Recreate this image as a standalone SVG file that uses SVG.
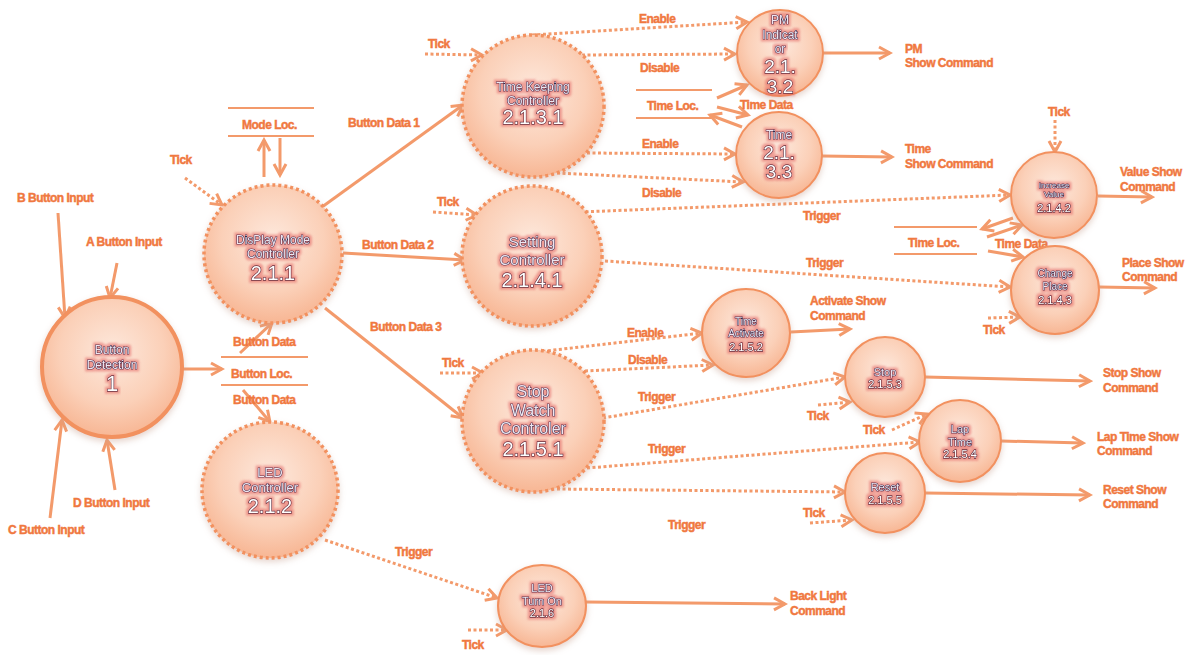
<svg xmlns="http://www.w3.org/2000/svg" width="1195" height="655" viewBox="0 0 1195 655">
<style>
.lbl{font-family:"Liberation Sans",Arial,sans-serif;font-weight:bold;font-size:12px;fill:#f0783f;stroke:#f0783f;stroke-width:0.45px;letter-spacing:-0.5px}
.ln{fill:none;stroke:#f39a6b;stroke-width:3;marker-end:url(#ah)}
.dt{fill:none;stroke:#f39a6b;stroke-width:3;stroke-dasharray:3 2.5;marker-end:url(#ah)}
.st{stroke:#f39a6b;stroke-width:2}
.n{fill:url(#g);stroke:#f2915f;stroke-width:2;filter:url(#sh)}
.nd{fill:url(#g);stroke:#f2915f;stroke-width:3.5;stroke-dasharray:3 3;filter:url(#sh)}
.t{font-family:"Liberation Sans",Arial,sans-serif;text-anchor:middle;fill:#efe6f0;stroke:#33294a;stroke-width:1.1px;paint-order:stroke;filter:url(#gl)}
.nm{font-family:"Liberation Sans",Arial,sans-serif;text-anchor:middle;fill:#ffffff;stroke:#5a2c3c;stroke-width:1.3px;paint-order:stroke;filter:url(#gl)}
</style>
<defs>
<radialGradient id="g" cx="50%" cy="40%" r="62%">
<stop offset="0" stop-color="#fde8dc"/>
<stop offset="0.6" stop-color="#fbd0b8"/>
<stop offset="1" stop-color="#f7b491"/>
</radialGradient>
<filter id="sh" x="-20%" y="-20%" width="140%" height="150%">
<feGaussianBlur in="SourceAlpha" stdDeviation="3"/>
<feOffset dy="3" result="b"/>
<feFlood flood-color="#c8a090" flood-opacity="0.45"/>
<feComposite in2="b" operator="in"/>
<feMerge><feMergeNode/><feMergeNode in="SourceGraphic"/></feMerge>
</filter>
<filter id="gl" x="-20%" y="-30%" width="140%" height="160%">
<feMorphology in="SourceAlpha" operator="dilate" radius="1.5" result="d"/>
<feGaussianBlur in="d" stdDeviation="1.2" result="b"/>
<feFlood flood-color="#e05a5a" flood-opacity="0.5"/>
<feComposite in2="b" operator="in"/>
<feMerge><feMergeNode/><feMergeNode in="SourceGraphic"/></feMerge>
</filter>
<marker id="ah" viewBox="0 0 16 16" markerWidth="16" markerHeight="16" refX="13" refY="8" orient="auto" markerUnits="userSpaceOnUse">
<path d="M2,2 L13,8 L2,14" fill="none" stroke="#f39a6b" stroke-width="3"/>
</marker>
</defs>
<rect width="1195" height="655" fill="#ffffff"/>

<g id="stores">
<line class="st" x1="228" y1="108" x2="314" y2="108"/><line class="st" x1="228" y1="136" x2="314" y2="136"/>
<line class="st" x1="221" y1="357" x2="308" y2="357"/><line class="st" x1="221" y1="385" x2="308" y2="385"/>
<line class="st" x1="636" y1="90" x2="712" y2="90"/><line class="st" x1="636" y1="118" x2="712" y2="118"/>
<line class="st" x1="894" y1="227" x2="977" y2="227"/><line class="st" x1="894" y1="254" x2="977" y2="254"/>
</g>

<g id="connectors">
<path class="ln" d="M58,213 L65,318"/>
<path class="ln" d="M117,263 L110,298"/>
<path class="ln" d="M115,490 L107,440"/>
<path class="ln" d="M50,518 L62,420"/>
<path class="ln" d="M182,369 L222,369"/>
<path class="ln" d="M240,353 L272,323"/>
<path class="ln" d="M243,390 L270,422"/>
<path class="ln" d="M264,177 L264,140"/>
<path class="ln" d="M280,138 L280,175"/>
<path class="ln" d="M322,207 L463,105"/>
<path class="ln" d="M343,253 L465,260"/>
<path class="ln" d="M325,308 L463,418"/>
<path class="ln" d="M823,53 L890,53"/>
<path class="ln" d="M822,156 L892,157"/>
<path class="ln" d="M717,98 L747,85"/>
<path class="ln" d="M717,107 L748,115"/>
<path class="ln" d="M742,127 L710,115"/>
<path class="ln" d="M1013,218 L982,229"/>
<path class="ln" d="M987,237 L1022,225"/>
<path class="ln" d="M988,251 L1023,257"/>
<path class="ln" d="M1098,196 L1152,197"/>
<path class="ln" d="M1099,287 L1155,288"/>
<path class="ln" d="M791,332 L850,329"/>
<path class="ln" d="M925,377 L1090,381"/>
<path class="ln" d="M1001,441 L1083,443"/>
<path class="ln" d="M925,493 L1090,495"/>
<path class="ln" d="M586,602 L785,604"/>
<path class="dt" d="M185,178 L222,205"/>
<path class="dt" d="M425,54 L482,55"/>
<path class="dt" d="M532,35 L747,22"/>
<path class="dt" d="M582,55 L735,54"/>
<path class="dt" d="M587,153 L735,154"/>
<path class="dt" d="M557,173 L743,182"/>
<path class="dt" d="M433,212 L477,215"/>
<path class="dt" d="M580,212 L1010,195"/>
<path class="dt" d="M605,261 L1010,287"/>
<path class="dt" d="M1055,120 L1055,152"/>
<path class="dt" d="M988,318 L1020,317"/>
<path class="dt" d="M440,373 L483,373"/>
<path class="dt" d="M537,352 L702,333"/>
<path class="dt" d="M585,371 L713,365"/>
<path class="dt" d="M603,418 L845,377"/>
<path class="dt" d="M587,468 L920,442"/>
<path class="dt" d="M557,489 L845,492"/>
<path class="dt" d="M818,405 L850,402"/>
<path class="dt" d="M892,430 L927,414"/>
<path class="dt" d="M810,523 L852,520"/>
<path class="dt" d="M325,540 L497,598"/>
<path class="dt" d="M468,630 L507,630"/>
</g>

<g id="labels">
<text class="lbl" x="17" y="202">B Button Input</text>
<text class="lbl" x="86" y="246">A Button Input</text>
<text class="lbl" x="73" y="507">D Button Input</text>
<text class="lbl" x="8" y="534">C Button Input</text>
<text class="lbl" x="233" y="346">Button Data</text>
<text class="lbl" x="231" y="378">Button Loc.</text>
<text class="lbl" x="233" y="404">Button Data</text>
<text class="lbl" x="170" y="164">Tick</text>
<text class="lbl" x="242" y="129">Mode Loc.</text>
<text class="lbl" x="348" y="127">Button Data 1</text>
<text class="lbl" x="362" y="249">Button Data 2</text>
<text class="lbl" x="370" y="331">Button Data 3</text>
<text class="lbl" x="428" y="48">Tick</text>
<text class="lbl" x="639" y="23">Enable</text>
<text class="lbl" x="640" y="72">Disable</text>
<text class="lbl" x="647" y="110">Time Loc.</text>
<text class="lbl" x="740" y="109">Time Data</text>
<text class="lbl" x="642" y="148">Enable</text>
<text class="lbl" x="642" y="197">Disable</text>
<text class="lbl" x="905" y="53">PM</text>
<text class="lbl" x="905" y="67">Show Command</text>
<text class="lbl" x="905" y="153">Time</text>
<text class="lbl" x="905" y="168">Show Command</text>
<text class="lbl" x="437" y="206">Tick</text>
<text class="lbl" x="803" y="220">Trigger</text>
<text class="lbl" x="806" y="267">Trigger</text>
<text class="lbl" x="908" y="247">Time Loc.</text>
<text class="lbl" x="995" y="248">Time Data</text>
<text class="lbl" x="1048" y="116">Tick</text>
<text class="lbl" x="1120" y="176">Value Show</text>
<text class="lbl" x="1120" y="191">Command</text>
<text class="lbl" x="1122" y="267">Place Show</text>
<text class="lbl" x="1122" y="281">Command</text>
<text class="lbl" x="983" y="334">Tick</text>
<text class="lbl" x="442" y="367">Tick</text>
<text class="lbl" x="627" y="337">Enable</text>
<text class="lbl" x="628" y="364">Disable</text>
<text class="lbl" x="810" y="305">Activate Show</text>
<text class="lbl" x="810" y="320">Command</text>
<text class="lbl" x="638" y="401">Trigger</text>
<text class="lbl" x="648" y="453">Trigger</text>
<text class="lbl" x="668" y="529">Trigger</text>
<text class="lbl" x="807" y="420">Tick</text>
<text class="lbl" x="863" y="434">Tick</text>
<text class="lbl" x="803" y="517">Tick</text>
<text class="lbl" x="1103" y="377">Stop Show</text>
<text class="lbl" x="1103" y="392">Command</text>
<text class="lbl" x="1097" y="441">Lap Time Show</text>
<text class="lbl" x="1097" y="455">Command</text>
<text class="lbl" x="1103" y="494">Reset Show</text>
<text class="lbl" x="1103" y="508">Command</text>
<text class="lbl" x="395" y="556">Trigger</text>
<text class="lbl" x="462" y="649">Tick</text>
<text class="lbl" x="790" y="600">Back Light</text>
<text class="lbl" x="790" y="615">Command</text>
</g>

<g id="n1">
<circle cx="112" cy="367" r="70" fill="url(#g)" stroke="#f2915f" stroke-width="4" filter="url(#sh)"/>
<text class="t" x="112" y="354" font-size="12">Button</text>
<text class="t" x="112" y="369" font-size="12">Detection</text>
<text class="nm" x="112" y="391" font-size="22">1</text>
</g>
<g id="n211">
<circle class="nd" cx="273" cy="254" r="69"/>
<text class="t" x="273" y="244" font-size="12">DisPlay Mode</text>
<text class="t" x="273" y="258" font-size="12">Controller</text>
<text class="nm" x="273" y="280" font-size="20">2.1.1</text>
</g>
<g id="n212">
<circle class="nd" cx="270" cy="490" r="68"/>
<text class="t" x="270" y="477" font-size="13">LED</text>
<text class="t" x="270" y="492" font-size="13">Controller</text>
<text class="nm" x="270" y="513" font-size="20">2.1.2</text>
</g>
<g id="n2131">
<circle class="nd" cx="533" cy="106" r="71"/>
<text class="t" x="533" y="91" font-size="12">Time Keeping</text>
<text class="t" x="533" y="105" font-size="12">Controller</text>
<text class="nm" x="533" y="124" font-size="20">2.1.3.1</text>
</g>
<g id="n2141">
<circle class="nd" cx="532" cy="256" r="70"/>
<text class="t" x="532" y="247" font-size="15">Setting</text>
<text class="t" x="532" y="265" font-size="15">Controller</text>
<text class="nm" x="532" y="287" font-size="20">2.1.4.1</text>
</g>
<g id="n2151">
<circle class="nd" cx="533" cy="421" r="71"/>
<text class="t" x="533" y="397" font-size="16">Stop</text>
<text class="t" x="533" y="416" font-size="16">Watch</text>
<text class="t" x="533" y="434" font-size="16">Controler</text>
<text class="nm" x="533" y="456" font-size="20">2.1.5.1</text>
</g>
<g id="n2132">
<circle class="n" cx="780" cy="53" r="43"/>
<text class="t" x="780" y="24" font-size="12">PM</text>
<text class="t" x="780" y="39" font-size="12">Indicat</text>
<text class="t" x="780" y="53" font-size="12">or</text>
<text class="nm" x="780" y="73" font-size="19">2.1.</text>
<text class="nm" x="780" y="93" font-size="19">3.2</text>
</g>
<g id="n2133">
<circle class="n" cx="779" cy="155" r="43"/>
<text class="t" x="779" y="139" font-size="12">Time</text>
<text class="nm" x="779" y="159" font-size="19">2.1.</text>
<text class="nm" x="779" y="178" font-size="19">3.3</text>
</g>
<g id="n2142">
<circle class="n" cx="1054" cy="195" r="43"/>
<text class="t" x="1054" y="188" font-size="8">Increase</text>
<text class="t" x="1054" y="197" font-size="8">Value</text>
<text class="nm" x="1054" y="212" font-size="11">2.1.4.2</text>
</g>
<g id="n2143">
<circle class="n" cx="1055" cy="290" r="44"/>
<text class="t" x="1055" y="277" font-size="10">Change</text>
<text class="t" x="1055" y="290" font-size="10">Place</text>
<text class="nm" x="1055" y="304" font-size="11">2.1.4.3</text>
</g>
<g id="n2152">
<circle class="n" cx="746" cy="333" r="44"/>
<text class="t" x="746" y="325" font-size="10">Time</text>
<text class="t" x="746" y="337" font-size="10">Activate</text>
<text class="nm" x="746" y="351" font-size="11">2.1.5.2</text>
</g>
<g id="n2153">
<circle class="n" cx="885" cy="377" r="40"/>
<text class="t" x="885" y="376" font-size="11">Stop</text>
<text class="nm" x="885" y="388" font-size="11">2.1.5.3</text>
</g>
<g id="n2154">
<circle class="n" cx="960" cy="441" r="41"/>
<text class="t" x="960" y="433" font-size="11">Lap</text>
<text class="t" x="960" y="446" font-size="11">Time</text>
<text class="nm" x="960" y="458" font-size="11">2.1.5.4</text>
</g>
<g id="n2155">
<circle class="n" cx="885" cy="493" r="40"/>
<text class="t" x="885" y="491" font-size="11">Reset</text>
<text class="nm" x="885" y="504" font-size="11">2.1.5.5</text>
</g>
<g id="n216">
<ellipse class="n" cx="542" cy="606" rx="44" ry="41"/>
<text class="t" x="542" y="592" font-size="11">LED</text>
<text class="t" x="542" y="605" font-size="11">Turn On</text>
<text class="nm" x="542" y="617" font-size="11">2.1.6</text>
</g>
</svg>
